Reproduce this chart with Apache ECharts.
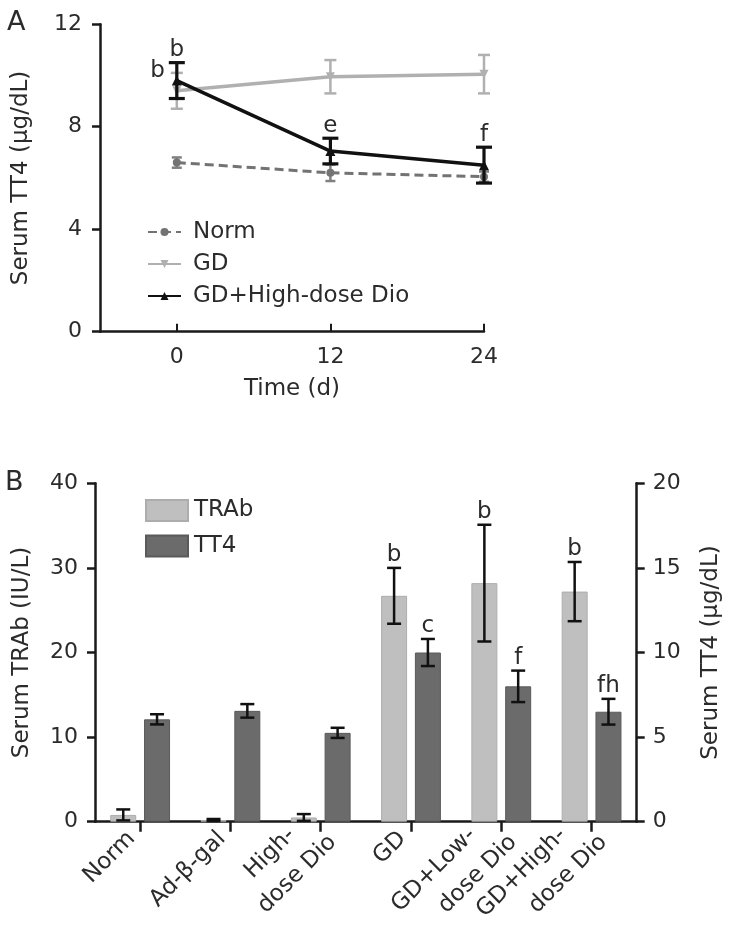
<!DOCTYPE html>
<html><head><meta charset="utf-8">
<script src="https://cdn.jsdelivr.net/npm/echarts@6/dist/echarts.min.js"></script>
<style>html,body{margin:0;padding:0;background:#fff}#c{width:729px;height:927px}</style>
</head><body><div id="c"></div>
<script>
// ---------- Panel A data ----------
const timeDays = [0, 12, 24];
const timeTicks = [0, 12, 24];
const seriesNamesA = ['Norm', 'GD', 'GD+High-dose Dio'];
const normMean = [6.6, 6.2, 6.05];
const normErr = [0.2, 0.32, 0.2];
const gdMean = [9.4, 9.95, 10.05];
const gdErr = [0.7, 0.65, 0.75];
const highMean = [9.8, 7.05, 6.5];
const highErr = [0.7, 0.5, 0.7];
const normSig = ['', '', ''];
const gdSig = ['b', '', ''];
const highSig = ['b', 'e', 'f'];

// ---------- Panel B data ----------
const groups = ['Norm', 'Ad-β-gal', 'High-\ndose Dio', 'GD', 'GD+Low-\ndose Dio', 'GD+High-\ndose Dio'];
const seriesNamesB = ['TRAb', 'TT4'];
const trabMean = [0.8, 0.2, 0.5, 26.7, 28.2, 27.2];
const trabErr = [0.65, 0.12, 0.4, 3.3, 6.9, 3.5];
const tt4Mean = [6.05, 6.55, 5.25, 10.0, 8.0, 6.5];
const tt4Err = [0.3, 0.4, 0.3, 0.8, 0.93, 0.76];
const trabSig = ['', '', '', 'b', 'b', 'b'];
const tt4Sig = ['', '', '', 'c', 'f', 'fh'];

// ---------- style ----------
const FONT = 'DejaVu Sans';
const TXT = '#2b2b2b';
const AX = '#1a1a1a';
const BAR_W = 26;
const BAR_GAP = 0.3;

function errA(name, mean, err, sig, color, lw, cap, sigSide, z) {
  return {
    type: 'custom', name: name + ' err', xAxisIndex: 0, yAxisIndex: 0, z: z,
    data: timeDays.map((t, i) => [t, mean[i], err[i]]),
    encode: { x: 0, y: 1 },
    renderItem: function (params, api) {
      const x = api.value(0), m = api.value(1), e = api.value(2);
      const top = api.coord([x, m + e]), bot = api.coord([x, m - e]);
      const st = { stroke: color, lineWidth: lw };
      const ch = [
        { type: 'line', shape: { x1: top[0], y1: top[1], x2: bot[0], y2: bot[1] }, style: st },
        { type: 'line', shape: { x1: top[0] - cap / 2, y1: top[1], x2: top[0] + cap / 2, y2: top[1] }, style: st },
        { type: 'line', shape: { x1: bot[0] - cap / 2, y1: bot[1], x2: bot[0] + cap / 2, y2: bot[1] }, style: st }
      ];
      const s = sig[params.dataIndex];
      if (s) {
        if (sigSide === 'left') {
          ch.push({ type: 'text', x: top[0] - 12, y: top[1] - 2, style: { text: s, fill: TXT, fontSize: 23, fontFamily: FONT, align: 'right', verticalAlign: 'middle' } });
        } else {
          ch.push({ type: 'text', x: top[0], y: top[1] - 1, style: { text: s, fill: TXT, fontSize: 23, fontFamily: FONT, align: 'center', verticalAlign: 'bottom' } });
        }
      }
      return { type: 'group', children: ch };
    }
  };
}

function errB(name, mean, err, sig, yIdx, side) {
  return {
    type: 'custom', name: name + ' err', xAxisIndex: 1, yAxisIndex: yIdx, z: 5,
    data: mean.map((v, i) => [i, v, err[i]]),
    encode: { x: 0, y: 1 },
    renderItem: function (params, api) {
      const i = api.value(0), m = api.value(1), e = api.value(2);
      const off = side * (BAR_W * (1 + BAR_GAP)) / 2;
      const top = api.coord([i, m + e]), bot = api.coord([i, Math.max(m - e, 0)]);
      const cx = top[0] + off, cap = 14;
      const st = { stroke: '#111', lineWidth: 2.5 };
      const ch = [
        { type: 'line', shape: { x1: cx, y1: top[1], x2: cx, y2: bot[1] }, style: st },
        { type: 'line', shape: { x1: cx - cap / 2, y1: top[1], x2: cx + cap / 2, y2: top[1] }, style: st },
        { type: 'line', shape: { x1: cx - cap / 2, y1: bot[1], x2: cx + cap / 2, y2: bot[1] }, style: st }
      ];
      const s = sig[params.dataIndex];
      if (s) ch.push({ type: 'text', x: cx, y: top[1] - 1, style: { text: s, fill: TXT, fontSize: 23, fontFamily: FONT, align: 'center', verticalAlign: 'bottom' } });
      return { type: 'group', children: ch };
    }
  };
}

const chart = echarts.init(document.getElementById('c'), null, { renderer: 'canvas' });
const axisLine = { show: true, onZero: false, lineStyle: { color: AX, width: 2.5 } };
const tickLbl = { color: TXT, fontSize: 22, fontFamily: FONT };
const nameStyle = { color: TXT, fontSize: 23, fontFamily: FONT };

chart.setOption({
  animation: false,
  backgroundColor: '#fff',
  textStyle: { fontFamily: FONT },
  graphic: [
    { type: 'text', left: 7, top: 9, style: { text: 'A', fontSize: 27, fontFamily: FONT, fill: TXT } },
    { type: 'text', left: 5, top: 469, style: { text: 'B', fontSize: 27, fontFamily: FONT, fill: TXT } }
  ],
  grid: [
    { left: 100, right: 245, top: 24.2, bottom: 595.3, outerBoundsMode: 'none', containLabel: false },
    { left: 95, right: 92.3, top: 483.3, bottom: 105.3, outerBoundsMode: 'none', containLabel: false }
  ],
  legend: [
    {
      data: seriesNamesA, orient: 'vertical', left: 142, top: 215.5,
      itemWidth: 33, itemHeight: 10, itemGap: 9,
      textStyle: { color: TXT, fontSize: 23, fontFamily: FONT, lineHeight: 23, padding: [0, 0, 0, 7] }
    },
    {
      data: seriesNamesB, orient: 'vertical', left: 140, top: 494,
      itemWidth: 42, itemHeight: 21, itemGap: 12.5, icon: 'rect',
      textStyle: { color: TXT, fontSize: 23, fontFamily: FONT, lineHeight: 23, padding: [0, 0, 0, 1] }
    }
  ],
  xAxis: [
    {
      type: 'value', gridIndex: 0, min: -6, max: 24,
      name: 'Time (d)', nameLocation: 'middle', nameGap: 46, nameTextStyle: nameStyle,
      axisLine: axisLine,
      axisTick: { show: true, inside: true, length: 8, lineStyle: { color: AX, width: 2 }, customValues: timeTicks },
      axisLabel: Object.assign({ margin: 15, customValues: timeTicks }, tickLbl),
      splitLine: { show: false }
    },
    {
      type: 'category', gridIndex: 1, data: groups, boundaryGap: true,
      axisLine: axisLine,
      axisTick: { show: true, alignWithLabel: true, length: 10, lineStyle: { color: AX, width: 2.5 } },
      axisLabel: {
        interval: 0, rotate: 45, margin: 5, color: TXT, fontSize: 23, fontFamily: FONT,
        formatter: function (v) {
          const l = v.split('\n');
          if (l.length === 1) return '{s|' + v + '}';
          return '{a|' + l[0] + '}\n{b|' + l[1] + '}';
        },
        rich: {
          s: { fontSize: 23, fontFamily: FONT, color: TXT, padding: [0, 12, 0, 0], lineHeight: 34 },
          a: { fontSize: 23, fontFamily: FONT, color: TXT, padding: [0, 24, 0, 0], lineHeight: 34 },
          b: { fontSize: 23, fontFamily: FONT, color: TXT, lineHeight: 34 }
        }
      },
      splitLine: { show: false }
    }
  ],
  yAxis: [
    {
      type: 'value', gridIndex: 0, min: 0, max: 12, interval: 4,
      name: 'Serum TT4 (μg/dL)', nameLocation: 'middle', nameGap: 67, nameTextStyle: nameStyle,
      axisLine: axisLine,
      axisTick: { show: true, length: 8, lineStyle: { color: AX, width: 2.5 } },
      axisLabel: Object.assign({ margin: 18 }, tickLbl),
      splitLine: { show: false }
    },
    {
      type: 'value', gridIndex: 1, min: 0, max: 40, interval: 10,
      name: 'Serum TRAb (IU/L)', nameLocation: 'middle', nameGap: 61, nameTextStyle: nameStyle,
      axisLine: axisLine,
      axisTick: { show: true, length: 8, lineStyle: { color: AX, width: 2.5 } },
      axisLabel: Object.assign({ margin: 17 }, tickLbl),
      splitLine: { show: false }
    },
    {
      type: 'value', gridIndex: 1, position: 'right', min: 0, max: 20, interval: 5,
      name: 'Serum TT4 (μg/dL)', nameLocation: 'middle', nameGap: 63, nameTextStyle: nameStyle,
      axisLine: axisLine,
      axisTick: { show: true, length: 8, lineStyle: { color: AX, width: 2.5 } },
      axisLabel: Object.assign({ margin: 16 }, tickLbl),
      splitLine: { show: false }
    }
  ],
  series: [
    {
      type: 'line', name: seriesNamesA[0], xAxisIndex: 0, yAxisIndex: 0, z: 2,
      data: timeDays.map((t, i) => [t, normMean[i]]),
      symbol: 'circle', symbolSize: 8,
      lineStyle: { color: '#737373', width: 3, type: [9, 5] },
      itemStyle: { color: '#737373' }
    },
    {
      type: 'line', name: seriesNamesA[1], xAxisIndex: 0, yAxisIndex: 0, z: 3,
      data: timeDays.map((t, i) => [t, gdMean[i]]),
      symbol: 'triangle', symbolRotate: 180, symbolSize: 9,
      lineStyle: { color: '#b0b0b0', width: 3.5 },
      itemStyle: { color: '#b0b0b0' }
    },
    {
      type: 'line', name: seriesNamesA[2], xAxisIndex: 0, yAxisIndex: 0, z: 4,
      data: timeDays.map((t, i) => [t, highMean[i]]),
      symbol: 'triangle', symbolSize: 10,
      lineStyle: { color: '#111', width: 3.5 },
      itemStyle: { color: '#111' }
    },
    errA('Norm', normMean, normErr, normSig, '#808080', 2.5, 10, 'top', 2),
    errA('GD', gdMean, gdErr, gdSig, '#b0b0b0', 2.5, 12, 'left', 3),
    errA('High', highMean, highErr, highSig, '#111', 3.2, 16, 'top', 5),
    {
      type: 'bar', name: seriesNamesB[0], xAxisIndex: 1, yAxisIndex: 1,
      data: trabMean, barWidth: BAR_W, barGap: (BAR_GAP * 100) + '%',
      itemStyle: { color: '#bfbfbf', borderColor: '#adadad', borderWidth: 1 }
    },
    {
      type: 'bar', name: seriesNamesB[1], xAxisIndex: 1, yAxisIndex: 2,
      data: tt4Mean, barWidth: BAR_W, barGap: (BAR_GAP * 100) + '%',
      itemStyle: { color: '#6b6b6b', borderColor: '#5a5a5a', borderWidth: 1 }
    },
    errB('TRAb', trabMean, trabErr, trabSig, 1, -1),
    errB('TT4', tt4Mean, tt4Err, tt4Sig, 2, 1)
  ]
});
</script>
</body></html>
